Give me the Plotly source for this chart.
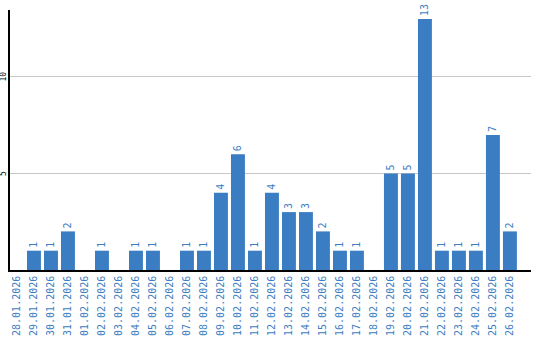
import plotly.graph_objects as go

dates = ["28.01.2026", "29.01.2026", "30.01.2026", "31.01.2026", "01.02.2026",
         "02.02.2026", "03.02.2026", "04.02.2026", "05.02.2026", "06.02.2026",
         "07.02.2026", "08.02.2026", "09.02.2026", "10.02.2026", "11.02.2026",
         "12.02.2026", "13.02.2026", "14.02.2026", "15.02.2026", "16.02.2026",
         "17.02.2026", "18.02.2026", "19.02.2026", "20.02.2026", "21.02.2026",
         "22.02.2026", "23.02.2026", "24.02.2026", "25.02.2026", "26.02.2026"]
counts = [0, 1, 1, 2, 0, 1, 0, 1, 1, 0, 1, 1, 4, 6, 1, 4, 3, 3, 2, 1, 1, 0, 5, 5, 13, 1, 1, 1, 7, 2]
y_ticks = [5, 10]

bar_color = "#3b7dc2"
labels = [str(v) if v else "" for v in counts]

fig = go.Figure(go.Bar(
    x=dates, y=counts, text=labels, textposition="outside", textangle=-90,
    constraintext="none", cliponaxis=False,
    marker=dict(color=bar_color, line=dict(width=0)),
    textfont=dict(family="DejaVu Sans Mono", size=10, color=bar_color),
))

for v in y_ticks:
    fig.add_annotation(
        x=0, xref="paper", y=v, yref="y", text=str(v), showarrow=False,
        textangle=-90, xanchor="right", yanchor="middle", xshift=-1,
        font=dict(family="DejaVu Sans Mono", size=8, color="black"),
        borderpad=0,
    )

fig.update_layout(
    width=540, height=340,
    margin=dict(l=10, r=9, t=10, b=70),
    plot_bgcolor="white", paper_bgcolor="white",
    bargap=0.18, showlegend=False,
    xaxis=dict(
        type="category", range=[-0.41, 30.24], tickangle=-90, automargin=False,
        tickfont=dict(family="DejaVu Sans Mono", size=10, color=bar_color),
        showgrid=False, showline=True, linecolor="black", linewidth=1.5,
        ticks="", ticklen=0,
    ),
    yaxis=dict(
        range=[0, 13.47], tickvals=y_ticks, showticklabels=False, automargin=False,
        showgrid=True, gridcolor="#c8c8c8", gridwidth=1,
        showline=True, linecolor="black", linewidth=1.5,
        zeroline=False, ticks="",
    ),
)

fig.write_html("out.html")
